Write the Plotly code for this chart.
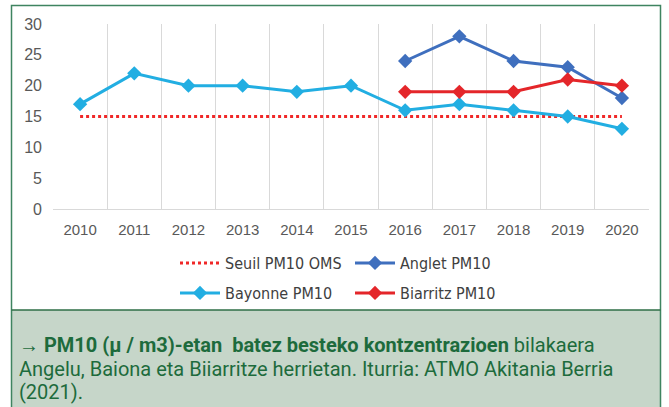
import plotly.graph_objects as go

years = ["2010", "2011", "2012", "2013", "2014", "2015", "2016", "2017", "2018", "2019", "2020"]
seuil = [15, 15, 15, 15, 15, 15, 15, 15, 15, 15, 15]
anglet_years = ["2016", "2017", "2018", "2019", "2020"]
anglet = [24, 28, 24, 23, 18]
bayonne = [17, 22, 20, 20, 19, 20, 16, 17, 16, 15, 13]
biarritz_years = ["2016", "2017", "2018", "2019", "2020"]
biarritz = [19, 19, 19, 21, 20]
y_ticks = [0, 5, 10, 15, 20, 25, 30]

W, H = 669, 407
L, R, T, B = 53, 649, 24, 209  # plot area in pixels


def px(x):
    return (x - L) / (R - L)


def py(y):
    return (B - y) / (B - T)


fig = go.Figure()
fig.add_trace(go.Scatter(x=years, y=seuil, name="Seuil PM10 OMS", mode="lines",
                         line=dict(color="#F02828", width=3, dash="dot"), legend="legend"))
fig.add_trace(go.Scatter(x=anglet_years, y=anglet, name="Anglet PM10", mode="lines+markers",
                         line=dict(color="#3F6FBE", width=3),
                         marker=dict(symbol="diamond", size=11, color="#3F6FBE"), legend="legend"))
fig.add_trace(go.Scatter(x=years, y=bayonne, name="Bayonne PM10", mode="lines+markers",
                         line=dict(color="#22AEE2", width=3),
                         marker=dict(symbol="diamond", size=11, color="#22AEE2"), legend="legend2"))
fig.add_trace(go.Scatter(x=biarritz_years, y=biarritz, name="Biarritz PM10", mode="lines+markers",
                         line=dict(color="#E4262A", width=3),
                         marker=dict(symbol="diamond", size=11, color="#E4262A"), legend="legend2"))

legend_font = dict(family="DejaVu Sans Condensed, Liberation Sans, sans-serif", size=16, color="#404040")

shapes = [
    # caption background
    dict(type="rect", xref="paper", yref="paper", x0=px(11.5), x1=px(660.5), y0=py(310), y1=py(412),
         fillcolor="#C6D6C9", line=dict(width=0), layer="below"),
    # outer border
    dict(type="rect", xref="paper", yref="paper", x0=px(11.5), x1=px(660.5), y0=py(412), y1=py(5.5),
         fillcolor="rgba(0,0,0,0)", line=dict(color="#3F8460", width=1.5)),
    # caption top line
    dict(type="line", xref="paper", yref="paper", x0=px(11.5), x1=px(660.5), y0=py(310), y1=py(310),
         line=dict(color="#2E6E46", width=1.5)),
]

cap_font = dict(family="Roboto, Liberation Sans, sans-serif", size=20, color="#1D6B3C")
captions = [
    "<b>→ PM10 (µ / m3)-etan  batez besteko kontzentrazioen</b> bilakaera",
    "Angelu, Baiona eta Biiarritze herrietan. Iturria: ATMO Akitania Berria",
    "(2021).",
]
cap_y = [345, 369, 392]
annotations = [
    dict(text=t, x=px(17), y=py(cy), xref="paper", yref="paper", xanchor="left", yanchor="middle",
         showarrow=False, font=cap_font)
    for t, cy in zip(captions, cap_y)
]

fig.update_layout(
    width=W, height=H,
    margin=dict(l=L, r=W - R, t=T, b=H - B),
    paper_bgcolor="white", plot_bgcolor="white",
    showlegend=True,
    legend=dict(orientation="h", x=px(175), y=py(246), xanchor="left", yanchor="top",
                font=legend_font, entrywidth=120, entrywidthmode="pixels", itemwidth=40,
                bgcolor="rgba(0,0,0,0)", traceorder="normal"),
    legend2=dict(orientation="h", x=px(175), y=py(276), xanchor="left", yanchor="top",
                 font=legend_font, entrywidth=120, entrywidthmode="pixels", itemwidth=40,
                 bgcolor="rgba(0,0,0,0)", traceorder="normal"),
    xaxis=dict(type="category", categoryorder="array", categoryarray=years,
               range=[-0.5, len(years) - 0.5], tickson="boundaries",
               showgrid=True, gridcolor="#D9D9D9", gridwidth=1,
               showline=True, linecolor="#D9D9D9", linewidth=1,
               ticks="", ticklabelstandoff=7,
               tickfont=dict(family="Liberation Sans, Arial, sans-serif", size=15, color="#595959"),
               zeroline=False),
    yaxis=dict(range=[0, 30], tickvals=y_ticks, showgrid=False, zeroline=False, showline=False,
               ticks="", ticklabelstandoff=10,
               tickfont=dict(family="Liberation Sans, Arial, sans-serif", size=16, color="#595959")),
    shapes=shapes,
    annotations=annotations,
)

fig.write_html("out.html", config={"displayModeBar": False},
               post_script="document.body.style.margin='0';document.body.style.overflow='hidden';")
